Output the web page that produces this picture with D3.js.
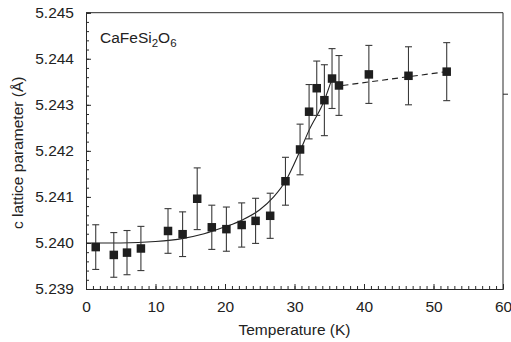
<!DOCTYPE html>
<html>
<head>
<meta charset="utf-8">
<script src="https://cdn.jsdelivr.net/npm/d3@7"></script>
<style>
  html, body { margin: 0; padding: 0; background: #fff; }
  svg { display: block; }
  text { font-family: "Liberation Sans", Arial, sans-serif; fill: #222; }
</style>
</head>
<body>
<svg id="chart" width="511" height="342"></svg>
<script>
// ---- data ----
const temperature = [1.4, 4.0, 5.9, 7.9, 11.8, 13.9, 16.0, 18.1, 20.2, 22.4, 24.4, 26.5,
                     28.7, 30.8, 32.1, 33.2, 34.3, 35.4, 36.4, 40.7, 46.4, 51.9];
const cParam = [5.23991, 5.23974, 5.23979, 5.23988, 5.24026, 5.24019, 5.24096, 5.24034,
                5.24030, 5.24039, 5.24048, 5.24059, 5.24134, 5.24203, 5.24285, 5.24336,
                5.24310, 5.24357, 5.24342, 5.24366, 5.24363, 5.24372];
const cError = [0.000485, 0.000485, 0.00048, 0.00048, 0.000485, 0.000485, 0.00067, 0.00048,
                0.00048, 0.00048, 0.00049, 0.00049, 0.00052, 0.00055, 0.00059, 0.00059,
                0.00077, 0.00065, 0.00065, 0.00063, 0.00063, 0.00063];
// solid fit curve
const fitT = [0, 5, 10, 14, 17, 20, 22.5, 25, 27, 28.7, 30.8, 32.1, 34.3, 35.4];
const fitC = [5.24000, 5.24000, 5.24003, 5.24010, 5.24020, 5.24035, 5.24050, 5.24072,
              5.24100, 5.24134, 5.24200, 5.24245, 5.24310, 5.24357];
// dashed line
const dashT = [36.9, 51.9];
const dashC = [5.24342, 5.24372];
// axis ticks
const xTicks = [0, 10, 20, 30, 40, 50, 60];
const yTicks = [5.239, 5.240, 5.241, 5.242, 5.243, 5.244, 5.245];
const xDomain = [0, 60];
const yDomain = [5.239, 5.245];
const sampleLabel = ["CaFe", "Si", "2", "O", "6"];
const rightTickValue = [5.24323];

// ---- layout ----
const svg = d3.select("#chart");
const pL = 86, pR = 503, pT = 12.7, pB = 289;
const x = d3.scaleLinear().domain(xDomain).range([pL, pR]);
const y = d3.scaleLinear().domain(yDomain).range([pB, pT]);
const ink = "#2a2a2a";

// frame: top and right borders
svg.append("line").attr("x1", pL).attr("x2", pR).attr("y1", pT).attr("y2", pT)
  .attr("stroke", ink).attr("stroke-width", 1);
svg.append("line").attr("x1", pR).attr("x2", pR).attr("y1", pT).attr("y2", pB)
  .attr("stroke", ink).attr("stroke-width", 1);
// stray tick on the right border
svg.selectAll(".rtick").data(rightTickValue).enter().append("line")
  .attr("x1", pR).attr("x2", pR + 5)
  .attr("y1", d => y(d)).attr("y2", d => y(d))
  .attr("stroke", ink).attr("stroke-width", 1);

// x axis (ticks pointing inward/up)
const xMinor = d3.range(xDomain[0], xDomain[1] + 0.5, 1);
const xAxisMinor = d3.axisBottom(x).tickValues(xMinor).tickSize(-3).tickFormat("");
const gxm = svg.append("g").attr("transform", `translate(0,${pB})`).call(xAxisMinor);
gxm.select(".domain").remove();
const xAxis = d3.axisBottom(x).tickValues(xTicks).tickSize(-5).tickFormat(d3.format("d"));
const gx = svg.append("g").attr("transform", `translate(0,${pB})`).call(xAxis);
gx.selectAll("text").attr("font-size", 15.5).attr("font-family", "Liberation Sans, Arial, sans-serif")
  .attr("fill", "#222").attr("dy", "0.71em").attr("y", 12);
// y axis (ticks inward)
const yMinor = d3.range(0, 31).map(i => yDomain[0] + i * 0.0002);
const yAxisMinor = d3.axisLeft(y).tickValues(yMinor).tickSize(-3).tickFormat("");
const gym = svg.append("g").attr("transform", `translate(${pL},0)`).call(yAxisMinor);
gym.select(".domain").remove();
const yAxis = d3.axisLeft(y).tickValues(yTicks).tickSize(-5).tickFormat(d3.format(".3f"));
const gy = svg.append("g").attr("transform", `translate(${pL},0)`).call(yAxis);
gy.selectAll("text").attr("font-size", 15.5).attr("font-family", "Liberation Sans, Arial, sans-serif")
  .attr("fill", "#222").attr("x", -12);
[gx, gy, gxm, gym].forEach(g => {
  g.selectAll("line").attr("stroke", ink);
  g.selectAll(".domain").attr("stroke", ink).attr("stroke-width", 1);
});

// axis titles
svg.append("text").attr("x", (pL + pR) / 2).attr("y", 335)
  .attr("text-anchor", "middle").attr("font-size", 15.5).text("Temperature (K)");
svg.append("text").attr("transform", `translate(23,${(pT + pB) / 2 + 2}) rotate(-90)`)
  .attr("text-anchor", "middle").attr("font-size", 15.5).text("c lattice parameter (Å)");

// sample label
const lab = svg.append("text").attr("x", 100).attr("y", 43).attr("font-size", 15.5);
lab.append("tspan").text(sampleLabel[0] + sampleLabel[1]);
lab.append("tspan").attr("font-size", 11.5).attr("dy", 4).text(sampleLabel[2]);
lab.append("tspan").attr("dy", -4).text(sampleLabel[3]);
lab.append("tspan").attr("font-size", 11.5).attr("dy", 4).text(sampleLabel[4]);

// fit curve
const fit = fitT.map((t, i) => [t, fitC[i]]);
svg.append("path").datum(fit)
  .attr("d", d3.line().x(d => x(d[0])).y(d => y(d[1])).curve(d3.curveMonotoneX))
  .attr("fill", "none").attr("stroke", "#222").attr("stroke-width", 1.1);
const dash = dashT.map((t, i) => [t, dashC[i]]);
svg.append("path").datum(dash)
  .attr("d", d3.line().x(d => x(d[0])).y(d => y(d[1])))
  .attr("fill", "none").attr("stroke", "#222").attr("stroke-width", 1.1)
  .attr("stroke-dasharray", "6,4");

// error bars
const pts = temperature.map((t, i) => ({ t, c: cParam[i], e: cError[i] }));
const eb = svg.append("g").attr("stroke", "#3a3a3a").attr("stroke-width", 1.1);
eb.selectAll(".v").data(pts).enter().append("line")
  .attr("x1", d => x(d.t)).attr("x2", d => x(d.t))
  .attr("y1", d => y(d.c - d.e)).attr("y2", d => y(d.c + d.e));
eb.selectAll(".ct").data(pts).enter().append("line")
  .attr("x1", d => x(d.t) - 3.5).attr("x2", d => x(d.t) + 3.5)
  .attr("y1", d => y(d.c + d.e)).attr("y2", d => y(d.c + d.e));
eb.selectAll(".cb").data(pts).enter().append("line")
  .attr("x1", d => x(d.t) - 3.5).attr("x2", d => x(d.t) + 3.5)
  .attr("y1", d => y(d.c - d.e)).attr("y2", d => y(d.c - d.e));

// markers
const s = 8.5;
svg.selectAll(".pt").data(pts).enter().append("rect")
  .attr("x", d => x(d.t) - s / 2).attr("y", d => y(d.c) - s / 2)
  .attr("width", s).attr("height", s)
  .attr("fill", "#1e1e1e");
</script>
</body>
</html>
